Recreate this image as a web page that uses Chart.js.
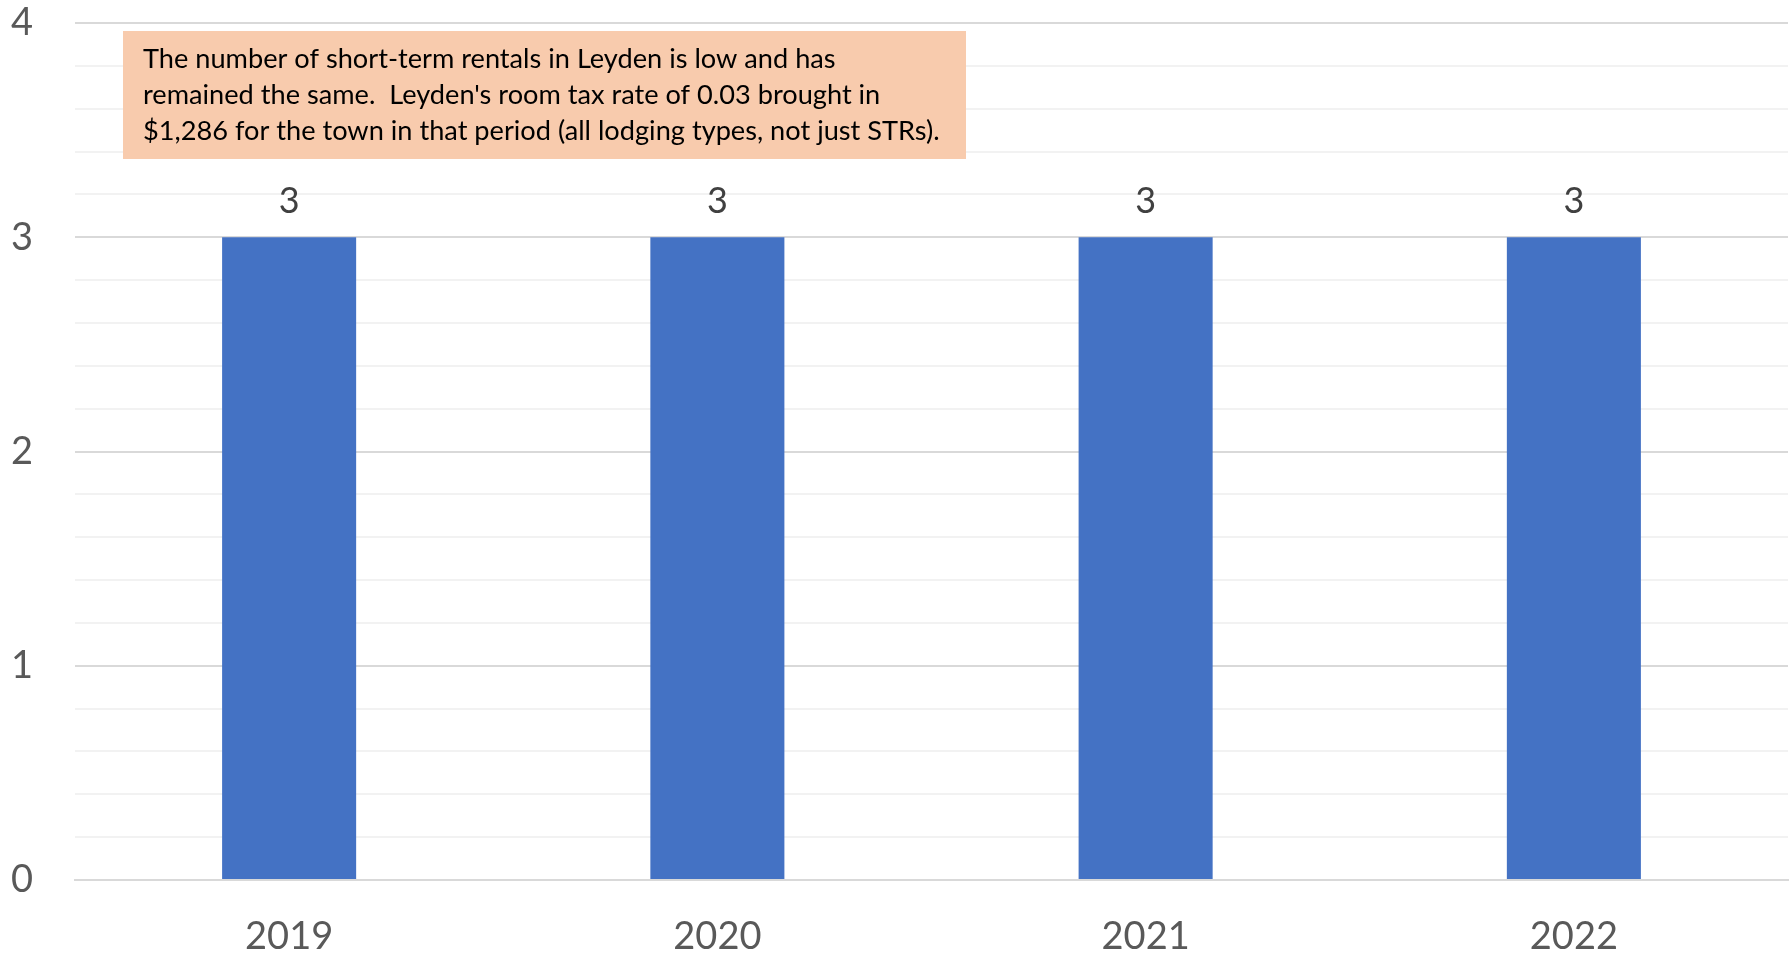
<!DOCTYPE html>
<html>
<head>
<meta charset="utf-8">
<title>Short-term rentals in Leyden</title>
<script src="https://cdn.jsdelivr.net/npm/chart.js@4/dist/chart.umd.min.js"></script>
<style>
  html, body { margin: 0; padding: 0; background: #fff; }
  #wrap { width: 1792px; height: 953px; }
</style>
</head>
<body>
<div id="wrap"><canvas id="strChart" width="1792" height="953"></canvas></div>
<script>
var years = ['2019', '2020', '2021', '2022'];
var rentals = [3, 3, 3, 3];
var noteLines = [
    'The number of short-term rentals in Leyden is low and has',
    "remained the same.  Leyden's room tax rate of 0.03 brought in",
    '$1,286 for the town in that period (all lodging types, not just STRs).'
];

var fontFamily = 'Lato, "Open Sans", sans-serif';

function isWhole(v) {
    return Math.abs(v - Math.round(v)) < 1e-6;
}

// value labels above each bar
var barValues = {
    id: 'barValues',
    afterDatasetsDraw: function(chart) {
        var ctx = chart.ctx;
        var meta = chart.getDatasetMeta(0);
        ctx.save();
        ctx.font = '36px ' + fontFamily;
        ctx.fillStyle = '#404040';
        ctx.textAlign = 'center';
        ctx.textBaseline = 'middle';
        meta.data.forEach(function(bar, i) {
            ctx.fillText(String(rentals[i]), bar.x, bar.y - 36);
        });
        ctx.restore();
    }
};

// shaded note box in the upper left of the plot
var noteBox = {
    id: 'noteBox',
    afterDraw: function(chart) {
        var ctx = chart.ctx;
        var area = chart.chartArea;
        var x = area.left + 48, y = area.top + 8, w = 843, h = 128;
        ctx.save();
        ctx.fillStyle = '#F8CBAD';
        ctx.fillRect(x, y, w, h);
        var size = 25;
        ctx.font = size + 'px ' + fontFamily;
        var widest = Math.max.apply(null, noteLines.map(function(t) { return ctx.measureText(t).width; }));
        size = size * 797 / widest;
        ctx.font = size + 'px ' + fontFamily;
        ctx.fillStyle = '#000';
        ctx.textAlign = 'left';
        ctx.textBaseline = 'middle';
        noteLines.forEach(function(t, i) {
            ctx.fillText(t, x + 20, y + 28 + i * 36);
        });
        ctx.restore();
    }
};

var ctx = document.getElementById('strChart').getContext('2d');
var strChart = new Chart(ctx, {
    type: 'bar',
    data: {
        labels: years,
        datasets: [{
            data: rentals,
            backgroundColor: '#4472C4',
            borderWidth: 0,
            categoryPercentage: 1,
            barPercentage: 0.313
        }]
    },
    options: {
        responsive: false,
        animation: false,
        layout: { padding: { top: 23, right: 4, left: 0, bottom: 0 } },
        plugins: {
            legend: { display: false },
            tooltip: { enabled: false }
        },
        scales: {
            x: {
                grid: { display: false, drawTicks: false },
                border: { display: true, color: '#d9d9d9', width: 2 },
                ticks: {
                    color: '#595959',
                    font: { family: fontFamily, size: 38 },
                    padding: 34
                },
                afterFit: function(scale) { scale.height = 73; }
            },
            y: {
                min: 0,
                max: 4,
                border: { display: false },
                grid: {
                    drawTicks: false,
                    lineWidth: 2,
                    color: function(c) {
                        return isWhole(c.tick.value) ? '#d9d9d9' : '#f2f2f2';
                    }
                },
                ticks: {
                    stepSize: 0.2,
                    autoSkip: false,
                    color: '#595959',
                    font: { family: fontFamily, size: 38 },
                    padding: 42,
                    callback: function(v) {
                        return isWhole(v) ? String(Math.round(v)) : '';
                    }
                },
                afterFit: function(scale) {
                    scale.width = 75;
                    scale.paddingTop = 0;
                    scale.paddingBottom = 0;
                }
            }
        }
    },
    plugins: [barValues, noteBox]
});
</script>
</body>
</html>
